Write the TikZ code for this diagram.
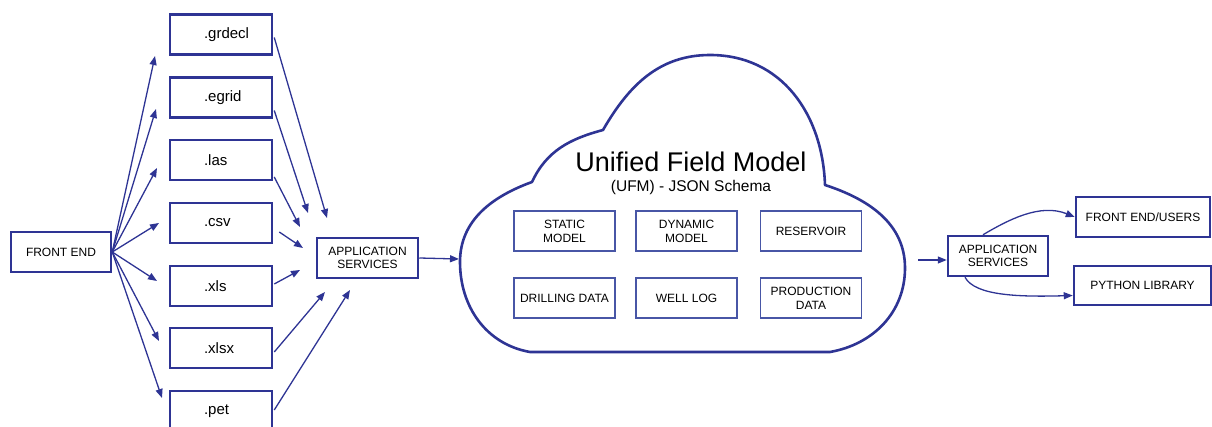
\documentclass[tikz,border=0pt]{standalone}
\usepackage{fontspec}
\setmainfont{Liberation Sans}
\usetikzlibrary{arrows.meta,calc}
\definecolor{ublue}{RGB}{46,52,148}
\definecolor{ublueL}{RGB}{72,86,166}
\tikzset{
  box/.style={draw=ublue, line width=2.5pt, rectangle, inner sep=0pt, align=center,
    font=\fontsize{12}{13.5}\selectfont},
  filebox/.style={draw=ublue, line width=2.5pt, rectangle, minimum width=102pt, minimum height=40pt,
    inner xsep=34pt, inner ysep=0pt, text width=34pt, align=left, font=\fontsize{15}{17}\selectfont},
  inbox/.style={draw=ublueL, line width=1.6pt, rectangle, minimum width=101pt, minimum height=40pt,
    inner sep=0pt, align=center, font=\fontsize{12}{14}\selectfont},
  arr/.style={draw=ublue, line width=1.3pt, -{Triangle[length=9pt,width=7pt]}},
  cloudline/.style={draw=ublue, line width=2.6pt, line join=round}
}
\begin{document}
\begin{tikzpicture}[x=1pt,y=-1pt]
\useasboundingbox (0,0) rectangle (1212,427);

% left side
\node[box, minimum width=100pt, minimum height=40pt] (fe) at (61,252) {FRONT END};
\node[filebox] (grdecl) at (221,34.5) {.grdecl};
\node[filebox] (egrid)  at (221,97.5) {.egrid};
\node[filebox] (las)    at (221,160) {.las};
\node[filebox] (csv)    at (221,223) {.csv};
\node[filebox] (xls)    at (221,286) {.xls};
\node[filebox] (xlsx)   at (221,348) {.xlsx};
\node[filebox] (pet)    at (221,411) {.pet};
\node[box, minimum width=101pt, minimum height=40pt] (as) at (367.5,258) {APPLICATION\\SERVICES};

\coordinate (t1) at (155,56);
\coordinate (t2) at (156,109);
\coordinate (t3) at (157,168);
\coordinate (t4) at (159,223);
\coordinate (t5) at (157,281);
\coordinate (t6) at (159,341);
\coordinate (t7) at (162,398);
\foreach \t in {t1,t2,t3,t4,t5,t6,t7} \draw[arr] (fe.east) -- (\t);

\coordinate (a1) at (327,218);
\coordinate (a2) at (308,213);
\coordinate (a3) at (300,227);
\coordinate (a4) at (303,248);
\coordinate (a5) at (300,270);
\coordinate (a6) at (325,292);
\coordinate (a7) at (350,290);
\draw[arr] ($(grdecl.east)+(1,3)$) -- (a1);
\draw[arr] ($(egrid.east)+(1,13)$) -- (a2);
\draw[arr] ($(las.east)+(1,17)$) -- (a3);
\draw[arr] ($(csv.east)+(6,9)$) -- (a4);
\draw[arr] ($(xls.east)+(1,-2)$) -- (a5);
\draw[arr] ($(xlsx.east)+(1,4)$) -- (a6);
\draw[arr] ($(pet.east)+(1,-1)$) -- (a7);

% cloud
\draw[cloudline]
  (532,182) to[out=200,in=90] (460,262)
  to[out=270,in=170] (530,352)
  -- (830,352)
  to[out=10,in=270] (905,268)
  to[out=90,in=-18] (825,185)
  to[out=92,in=0,looseness=1.05] (710,55)
  to[out=180,in=60] (603,130)
  to[out=195,in=65] (532,182) -- cycle;
\coordinate (cloudL) at (459,259);
\draw[arr] (as.east) -- (cloudL);

\node[anchor=base, font=\fontsize{27}{30}\selectfont] (title) at (691,172) {Unified Field Model};
\node[anchor=base, font=\fontsize{15.5}{17}\selectfont] (sub) at (691,192) {(UFM) - JSON Schema};

\node[inbox] (static) at (564.5,231) {STATIC\\MODEL};
\node[inbox] (dynamic) at (686.5,231) {DYNAMIC\\MODEL};
\node[inbox] (reservoir) at (811,231) {RESERVOIR};
\node[inbox] (drilling) at (564.5,298) {DRILLING DATA};
\node[inbox] (welllog) at (686.5,298) {WELL LOG};
\node[inbox] (production) at (811,298) {PRODUCTION\\DATA};

% right side
\node[box, minimum width=100pt, minimum height=40pt] (as2) at (998,256) {APPLICATION\\SERVICES};
\node[box, minimum width=134pt, minimum height=40pt] (fu) at (1143,217) {FRONT END/USERS};
\node[box, minimum width=137pt, minimum height=39pt] (py) at (1142.5,285.5) {PYTHON LIBRARY};

\coordinate (c1) at (918,260);
\draw[arr] (c1) -- (c1 -| as2.west);
\draw[arr] ($(as2.north)+(-15,0)$) .. controls (1008,220) and (1040,203) .. (fu.west);
\draw[arr] ($(as2.south)+(-33,0)$) .. controls (975,296) and (1020,297) .. ($(py.west)+(0,10)$);
\end{tikzpicture}
\end{document}
